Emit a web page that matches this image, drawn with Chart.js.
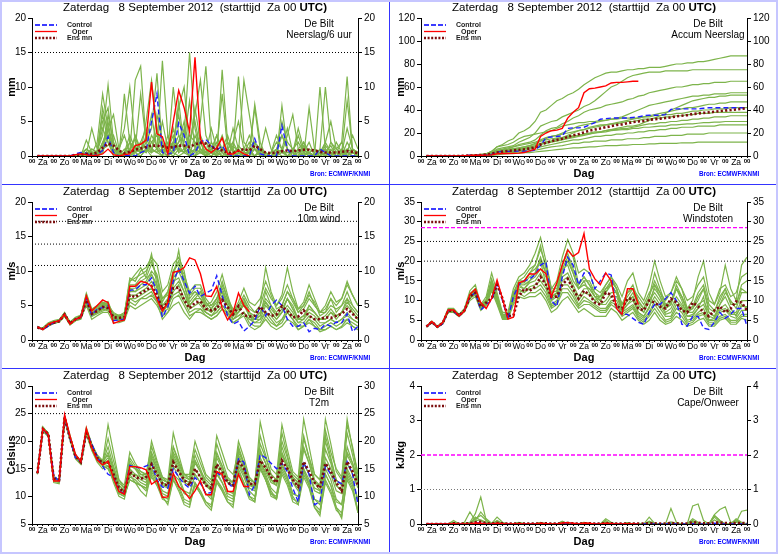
<!DOCTYPE html>
<html lang="nl">
<head>
<meta charset="UTF-8">
<title>ECMWF pluim De Bilt - 8 September 2012</title>
<script src="https://cdn.jsdelivr.net/npm/chart.js"></script>
<style>
    body { margin: 0; background: #fff; }
    #wrap { position: relative; width: 778px; height: 554px; overflow: hidden; background: #fff; }
    #wrap canvas { position: absolute; }
    .sep { position: absolute; background: #3434ff; }
    .frame { position: absolute; left: 0; top: 0; width: 778px; height: 554px; box-sizing: border-box; border: 2px solid #c6c6ff; }
</style>
</head>
<body>
<div id="wrap">
    <canvas id="pNeerslag" width="389" height="184" style="left:0;top:0"></canvas>
    <canvas id="pAccum" width="389" height="184" style="left:389px;top:0"></canvas>
    <canvas id="pWind" width="389" height="184" style="left:0;top:184px"></canvas>
    <canvas id="pGust" width="389" height="184" style="left:389px;top:184px"></canvas>
    <canvas id="pTemp" width="389" height="184" style="left:0;top:368px"></canvas>
    <canvas id="pCape" width="389" height="184" style="left:389px;top:368px"></canvas>
    <div class="sep" style="left:389px;top:0;width:1px;height:554px"></div>
    <div class="sep" style="left:0;top:184px;width:778px;height:1px"></div>
    <div class="sep" style="left:0;top:368px;width:778px;height:1px"></div>
    <div class="frame"></div>
</div>
<script>
const STEP = 0.25; // 6 uur in dagen, eerste waarde op +6h
const dayNames = ['Za', 'Zo', 'Ma', 'Di', 'Wo', 'Do', 'Vr', 'Za', 'Zo', 'Ma', 'Di', 'Wo', 'Do', 'Vr', 'Za'];

// Neerslag per 6 uur (mm)
const precipCtrl = [0,0,0, 0,0,0,0, 0.3,0.5,0.4,0, 0.2,0.8,2.8,0.5, 0,0,0.1,0, 0.5,0.8,5,9, 0.5,0.3,0.5,4.8, 3,0,0.5,2, 2.4,1.5,0.8,1.5, 0.3,0,0,0, 0,2.5,0.3,0.1, 0,0,4.4,1, 0,0,0,0, 0,1,0.5,0, 0,0,0,0, 0];
const precipOper = [0,0,0, 0,0,0,0, 0.2,0.3,0.2,0, 0.1,0.3,1,0.2, 0,0.2,0.3,1.5, 1.7,2.3,10.7,3.2, 2.8,0.3,5,9.5, 7,3.5,14.3,2.5, 1,0.5,1.2,2.6, 0.3,0.3,0.8,0.3, 0];
const precipMean = [0,0,0, 0,0,0,0, 0.1,0.2,0.3,0.3, 0.5,1.2,1.8,1.5, 0.8,0.4,0.6,0.9, 1.1,1.3,1.5,1.5, 1.4,1.2,1.3,1.5, 1.5,1.3,1.7,1.9, 1.8,1.3,1.1,0.8, 0.5,0.4,0.8,1.0, 0.8,1.5,1.0,0.5, 0.4,0.5,0.7,0.8, 0.7,0.8,0.9,0.9, 0.8,0.6,0.5,0.5, 0.5,0.6,0.7,0.6, 0.4];
const precipEns = [
    [0,0,0, 0,0,0,0, 0,0.4,1,0.3, 0.8,3,10.3,2, 0.3,0,1,2.5, 1,0.5,3,1.5, 0.5,0,1,2, 3,15,4,0.5, 0,1,2,1, 0.5,0,0.3,1, 3,1,0,0, 0.5,2,1,0, 0,0.5,1,0.3, 0,0,1.5,0.5, 0,0.3,1,0.5, 0],
    [0,0,0, 0,0,0,0, 0,0,2.3,0.5, 0,1,4,6, 1,3,0.5,11, 13,2,0.5,1, 13.8,3,0.5,2, 5,1,0.5,3, 1,0.5,3,1, 0,2,5,1, 0.5,7.5,2,0, 0.5,3,1,0, 1,2,0.5,0, 0,0.5,0,2, 1,0.5,0,1, 0.3],
    [0,0,0, 0,0,0,0, 0,0,0.3,4, 1,6,2,0.5, 0,9,2,1, 0.5,5,11,4, 1,0.5,10,3, 2,8,1,5, 13,2,0.5,1, 3,0.5,11.5,2, 1,0,0.5,4, 1,0,7.3,1, 0.5,0,2,0.5, 0,1,10,2, 0.5,0,0.5,3, 1],
    [0,0,0, 0,0,0,0, 0,0,0.5,0.3, 2,9,4,1, 0,0.5,3,1, 9,2,6,1, 0,3,1,8, 1,2,6,11, 3,1,0,12.5, 2,1,0,0.5, 2,1,0.5,0, 0,1,0.5,3, 6,1,0,0.5, 1,0,2,5, 1,2,0,0.5, 0],
    [0,0,0, 0,0,0,0, 0,0,0,1, 0.5,7,3,1, 0.5,0,2,1, 0.5,2,4,12, 1,0.5,2,7, 10,1,0,1, 0.5,4,1,9, 1,0,0.5,11, 6,1,0,0.5, 0,0.5,5,2, 1,0.5,0,7, 1,0.5,0,0, 0.5,2,11.5,0.5, 0.5],
    [0,0,0, 0,0,0,0, 0,0,0.3,1, 0.5,5,7,1, 0,1,0.5,3, 1,0.5,2,3, 1,0.5,0,1, 0.5,3,2,1, 0.5,0,1,3, 0.5,4,1,0, 0.5,2,1,0, 0,1,3,1, 0.5,4,1,0, 0,0.5,1,0, 2,0.5,8,1, 0.5],
    [0,0,0, 0,0,0,0, 0,0,0,0.5, 0,2,4,0.5, 1,4,10,2, 0.5,1,0.5,6, 2,0.5,4,0.5, 1,0.5,0,2, 0.5,1,0.5,0, 1,2,0.5,0, 0.5,1,0,0, 0.5,1,0.5,0, 0,1,0.5,2, 0,10,1,0, 0.5,0,0.5,0, 0],
    [0,0,0, 0,0,0,0, 0,0,0.5,0, 0,1,1.5,3, 0.5,0,0,1, 2,1,1,0.5, 1,0,0.5,1.5, 0.5,0,3,1, 0,0.5,0,0.5, 0,0.5,1,0, 0,2,0,0, 0.5,0,1,0, 0,1,0,0.5, 0,1,0,0.5, 0,1,0.5,0, 0],
    [0,0,0, 0,0,0,0, 0,0.2,0.5,0, 0.5,4,2,0, 0,0.5,2,0.5, 0,1,0.5,4, 0.5,1,2,0.5, 4,0.5,1,0.5, 2,0.5,1,0, 0,1.5,0.5,0, 1,0,0.5,0, 0,0,1,4, 0.5,0,0,1, 0.5,0,0,1, 0,0,2,0.5, 0],
    [0,0,0, 0,0,0,0, 0,0,0,0.3, 0.5,1.5,5,0.5, 0,0,0.5,0.5, 1,2.5,1,0.5, 5,1,0.5,0, 0.5,1,7,2, 0,0,0.5,1, 2,0.5,0,0, 0.5,0,1,0.5, 0,0.5,0,0, 0.5,0,1.5,0.5, 0,0,0.5,1.5, 0,0.5,0,1, 0.5],
    [0,0,0, 0,0,0,0, 0,0.3,0.2,0, 0.3,2,3,0.5, 0,0.3,1,0, 0.5,3,2,1, 0.5,1,3,1, 0.5,2,5,1, 0,0.5,0,1, 0.5,0,0,0, 0,1,0.5,0, 0,0.5,3,1, 0,1,2,0.5, 0,0,0.5,0, 0,0,1,0.5, 0],
    [0,0,0, 0,0,0,0, 0,0,1,0.5, 0,0.5,3,1, 0.5,0,0,0.5, 2,4,1,0.5, 0,2,1,3, 1,0,1,0.5, 0.5,1,3,0.5, 0,0,1.5,0.5, 0,0,1,0, 0,0,0.5,0.5, 0.5,3,0.5,0, 0,0.5,2,0.5, 0,0.5,4,1, 0],
    [0,0,0, 0,0,0,0, 0,0,0,0, 0,0.5,6,2, 0,0,0,0, 0,1,0,0, 0,0,2,6, 1,0,0,0.5, 0,2,0.5,0, 0,0,0,0.5, 0.5,7,1,0, 0,0,1,0, 0,0,0.5,0, 0,0,1,0, 0,0,0,0, 0]
];
const precipLines = [15];

// Geaccumuleerde neerslag (mm)
const accumCtrl = [0,0,0, 0,0,0,0, 0.3,0.6,0.8,0.8, 1,1.3,3.5,4, 4,4,4.2,4.2, 4.5,5,9,16, 16.5,17,17.5,24, 24.5,24.5,25,27, 29,32,32.5,33, 33,33,33,33.5, 34,35,35.5,35.5, 35.5,36,40.5,41, 41,41,41,41, 41.5,42,42,42, 42,42,42,42, 42];
const accumOper = [0,0,0, 0,0,0,0, 0.2,0.5,0.7,0.7, 0.8,1,2,2.2, 2.2,2.3,2.5,3, 4.5,6,17,20, 22,22.5,24,33, 38,42,55,58.5, 59,60,61,63.5, 64,64,64.5,65, 65];
const accumMean = [0,0,0, 0,0,0,0, 0.2,0.4,0.6,0.8, 1.2,2,3,3.8, 4.4,5,5.3,5.8, 6.5,7.5,10,11.5, 13,14,15,16.5, 18,19,20.5,22, 23,24,25,26, 27,27.5,28.5,29.5, 30,30.5,31.5,32, 32.5,33,33.5,34.5, 35,35.5,36.5,37, 37.5,38,38.5,39, 39.5,40,40.5,41, 41.5];
const accumEns = [
    [0,0,0, 0,0,0,0, 0,0.5,1,1.5, 2,4,8,10, 13,15,20,22, 25,30,38,40, 44,48,50,53, 55,58,62,65, 68,70,72,73, 73,74,75,75, 76,76,77,77, 77,78,79,80, 80,81,81,82, 82,83,84,85, 86,87,87,87, 87],
    [0,0,0, 0,0,0,0, 0,0.3,0.5,1, 1.5,3,6,7, 8,9,12,14, 16,20,26,28, 30,31,34,36, 38,40,43,45, 48,52,56,60, 62,65,68,70, 71,72,73,73, 73,74,74,74, 74,74,75,75, 75,75,75,75, 75,75,75,75, 75],
    [0,0,0, 0,0,0,0, 0,0,0.3,0.5, 1,2,4,5, 6,8,10,11, 12,14,18,22, 24,25,28,30, 33,35,38,40, 41,42,44,45, 46,47,49,50, 52,53,55,56, 57,58,59,60, 60,61,62,62, 63,63,64,64, 64,65,65,65, 65],
    [0,0,0, 0,0,0,0, 0,0,0.5,1, 1.5,3,5,5.5, 6,6.5,7,8, 9,10,13,15, 17,18,20,22, 24,26,27,28, 29,30,31,32, 33,34,36,38, 40,42,44,45, 46,47,48,49, 50,51,52,52, 53,53,54,54, 54,55,55,55, 55],
    [0,0,0, 0,0,0,0, 0,0,0,0.5, 1,2,3,3.5, 4,5,6,7, 8,9,11,12, 13,15,16,18, 20,22,23,25, 26,27,27,28, 29,30,31,32, 33,34,35,36, 37,38,39,40, 41,42,42,43, 44,45,45,46, 46,47,47,47, 47],
    [0,0,0, 0,0,0,0, 0,0.2,0.4,0.6, 1,2,4,4.5, 5,5.5,6,6.5, 7,8,10,12, 13,14,15,16, 17,18,19,20, 21,21,22,23, 23,24,24,25, 26,27,28,28, 29,29,30,30, 31,31,32,32, 33,33,34,34, 34,35,35,35, 35],
    [0,0,0, 0,0,0,0, 0,0,0.3,0.5, 0.8,1.5,2.5,3, 3.5,4,4.5,5, 6,7,8,9, 10,11,12,13, 14,14,15,16, 17,17,18,18, 19,19,20,20, 21,21,22,22, 23,23,24,24, 25,25,25,26, 26,26,26,27, 27,27,27,27, 27],
    [0,0,0, 0,0,0,0, 0,0,0,0.3, 0.5,1,2,2.5, 3,3,3.5,4, 4.5,5,6,7, 8,8.5,9,10, 11,11,12,12, 13,13,13,14, 14,14,15,15, 15,16,16,17, 17,17,18,18, 18,19,19,19, 19,20,20,20, 20,20,20,20, 20],
    [0,0,0, 0,0,0,0, 0,0,0,0, 0.3,0.5,1,1.5, 2,2,2.5,3, 3,3.5,4,4.5, 5,5.5,6,6.5, 7,7,7.5,8, 8,8.5,9,9, 9,9.5,9.5,10, 10,10,10.5,10.5, 11,11,11,11, 11.5,11.5,11.5,12, 12,12,12,12, 12,12,12,12, 12],
    [0,0,0, 0,0,0,0, 0,0,0.5,1, 2,4,8,9, 10,12,15,17, 18,19,20,21, 22,24,26,27, 28,29,29,30, 30,31,31,32, 32,33,33,33, 33,34,34,35, 35,36,36,37, 37,38,39,39, 40,40,41,41, 41,42,42,42, 42],
    [0,0,0, 0,0,0,0, 0,0,0.3,0.8, 1.5,3,5,6, 7,8,9,10, 11,12,14,16, 17,18,19,20, 21,22,23,24, 25,26,27,28, 28,29,30,30, 31,32,32,33, 33,34,34,35, 35,36,36,37, 37,37,38,38, 38,38,38,38, 38],
    [0,0,0, 0,0,0,0, 0,0,0,0.3, 0.8,2,3.5,4, 5,6,7,8, 9,11,13,14, 15,15.5,16,17, 17.5,18,19,19.5, 20,20.5,21,22, 22.5,23,23,24, 24,25,25,25.5, 26,26,27,27, 27.5,28,28,28.5, 29,29,29.5,29.5, 30,30,30,30, 30],
    [0,0,0, 0,0,0,0, 0,0,0,0.5, 1,2,3,3.5, 4,4.5,5,6, 7,8,10,11, 12,13,14,15, 16,17,18,19, 20,21,22,23, 24,25,26,26, 27,29,31,33, 35,37,40,42, 44,46,48,49, 50,51,51,52, 52,53,53,53, 53]
];

// 10m wind (m/s)
const windCtrl = [1.9,1.5,2,2.5, 2.8,3.7,2.4,3, 3.3,6,3.6,4.5, 4.7,5,2.8,2.9, 3,7.2,7.3,8, 8,9,7,3.3, 4.8,8.5,10.3,8.5, 6.8,7.8,6.3,6.8, 7.2,9.3,6.5,3.5, 2.3,2.7,1.3,2, 2.8,4.9,3.5,5, 5.8,5,3,2, 2,2.5,1.2,1.7, 1.5,2.3,2,2.6, 2.5,3.8,1.2,2];
const windOper = [1.9,1.5,2.3,2.6, 2.8,3.7,2.3,3, 3.3,6.4,4.2,5, 5.8,5.4,2.4,2.7, 2.9,7.8,7.8,8.5, 8.3,7.8,5.9,4.2, 5.4,9.8,10,10.5, 11.9,11.6,9.6,6.4, 6.3,7.8,4.6,2.9, 4,6.8,5,4.1];
const windMean = [1.8,1.6,2.2,2.5, 2.7,3.7,2.4,3, 3.3,5.8,3.8,4.2, 4.8,4.6,3.3,3.2, 3.3,6.5,6.2,6.8, 7.2,7.8,6.5,4.5, 5.5,7.5,7.6,5.8, 4.6,5.4,5.6,4.5, 4.3,4.5,5.8,4.8, 3.7,4.9,3.6,3.4, 3.5,4.8,4,3.5, 3.7,4.9,4.2,3.3, 3.4,4.3,3.5,3, 3,3.3,3.2,3.5, 3.8,4.5,3.8,3];
const windEns = [
    [1.8,1.6,2.4,2.6,2.9,4,2.5,3.2,3.5,6.5, 4,4.5,5,5.2,3,3,3.5,8,8,9, 9.5,12.5,8,4,6,9,13,8,5,6, 7,5,4,5,8,6,4,5,6,4, 3,3,5,4,3,4,6,5,3,3, 5,4,3,3,4,3,4,5,4,3],
    [2,1.5,2,2.4,2.6,3.5,2.2,2.8,3,5.5, 3.5,4,4.5,4.2,3.5,3.5,3,6,5.5,6, 6.5,7,5.5,4,5,7,8,6,5,6, 5,4,3.5,4,5,4,3,3.5,4,3, 3,4,5.5,4,3,4,5,4,2.5,3, 4,3.5,2.5,2.5,3,2.5,3,4,3,2.5],
    [1.7,1.8,2.5,2.8,3,3.8,2.6,3.3,3.6,6.8, 4.5,5,5.5,5,4,3.5,4,7.5,7,8, 8.5,10,9,6,7,10,11,9.5,7,8, 8,6,5,6,7,5,3.5,4,5.5,3.5, 2.5,2.5,4,3,2,3,4,3,2,2, 3,2.5,1.5,2,2.5,2,2.5,3,2.5,2],
    [1.9,1.5,2.1,2.5,2.7,3.6,2.3,3,3.2,5, 3,3.5,4,4,2.5,2.5,2.8,5,4.5,5, 5.5,6,5,3.5,4,5,5.5,4,3,4, 4,3.5,3,3.5,4.5,3.5,2.5,3,4,2.5, 2,2,3.5,2.5,2,2.5,4,3,1.5,2, 3,2,1.5,1.5,2,1.5,2,3,2,1.5],
    [1.8,1.7,2.3,2.6,2.8,3.8,2.5,3.1,3.4,6, 4,4.5,5.2,5,3.8,3.6,3.8,9,8.5,10, 10.5,12,11,7,8,11,12,10,6,7, 6.5,5,5,6,7.5,5.5,4,5,6.5,5, 4,5,10.5,7,5,6,8,6,4,5, 7,5,4,4.5,6,4,5,7,5,4],
    [1.8,1.6,2.2,2.5,2.8,3.7,2.4,3,3.3,5.8, 3.7,4.2,4.6,4.8,3.2,3.2,3.2,6.5,6.5,7, 7.5,8.5,7,5,6,8.5,9,7,5,6, 6,4.5,4,5,6.5,5,3.5,4.5,5,4, 3.5,4,6,5,4,5,7,5.5,4,4.5, 6,5,4,4,5,4.5,5,6,5,4],
    [2,1.6,2.2,2.4,2.6,3.4,2.2,2.8,3.1,5.2, 3.4,3.8,4.2,4.5,3,2.8,2.9,5.5,5,6, 6,6.5,5.5,3,4,6,6.5,5,3.5,4, 4.5,3.5,3,3.5,4.5,4,2.5,3,3.5,2, 1.5,2,3,2,1.5,2,3,2.5,1.5,2, 2.5,2,1.2,1.5,2,1.5,1.8,2.5,2,1.5],
    [1.8,1.6,2.3,2.6,2.8,3.8,2.5,3.1,3.4,6.2, 4.2,4.6,5,5,3.5,3.4,3.6,7.5,7.5,8.5, 9,11,9.5,6,6.5,9,10,8,5.5,6.5, 7,5.5,4.5,5.5,7,5.5,4,4,5,3.5, 3,3.5,7,5,3.5,4.5,6,4.5,3,3.5, 5,4,3,3.5,4.5,3.5,4,6,4,3],
    [1.9,1.6,2.3,2.5,2.8,3.9,2.4,3.1,3.4,6.4, 4.4,4.8,5.4,5.6,3.4,3.3,3.4,8.5,9,9.5, 10,11.5,9,5,5.5,8,10.5,9,6.5,7.5, 7.5,5.5,4.5,6,8.5,6,4.5,4.5,6,4.5, 4,5,7.5,6,5,6.5,10.5,7,4.5,5, 6.5,5.5,3.5,4,6,5,6,8,6.5,5],
    [1.8,1.5,2.1,2.4,2.7,3.6,2.3,2.9,3.2,5.6, 3.6,4,4.4,4.6,3.1,3,3,6,6,6.5, 7,7.5,6,4.5,5,6.5,7,5.5,4,4.5, 4.5,4,3.5,4,5,4.5,3,3.5,4,3, 2.5,3,4,3.5,2.5,3,4.5,3.5,2.5,2.5, 3.5,3,2,2.5,3,2.5,3,3.5,3,2.5],
    [1.8,1.7,2.4,2.7,2.9,3.9,2.6,3.2,3.5,6.6, 4.3,4.8,5.3,5.3,3.7,3.5,3.7,8.5,9.5,10.5, 9,9.5,8,5.5,7,10,11.5,8.5,6.5,7, 6,5,5.5,7,9.5,6.5,4,5.5,7.5,5.5, 5,6,8.5,6.5,4.5,5,7,6,4.5,5.5, 8,6,4,5,7,5.5,6,8.5,6.5,5],
    [1.9,1.6,2.2,2.5,2.7,3.7,2.4,3,3.3,5.9, 3.8,4.3,4.7,4.9,3.3,3.1,3.3,7,7,7.5, 8,9.5,7.5,4,4.5,7.5,8.5,7,4.5,5, 5.5,4,3.5,4.5,6,5,3,4,5.5,3.5, 3,3.5,5.5,4.5,3.5,4,6,4.5,3,3.5, 4.5,4,3,3,4,3.5,4,5.5,4.5,3.5]
];
const windLines = [10.8, 13.9, 17.2];

// Windstoten (m/s)
const gustCtrl = [3.4,4.5,3.3,4.1, 7.5,7.3,6,7.5, 11,12,7.6,9, 10,14.5,10,5.3, 11,14,15,15.5, 16.5,19,19.8,10, 8.5,16,21,19, 14,17,17,13, 15,17,16.5,8, 6.5,6.5,5.5,4.5, 4,7,9,9, 10.5,12,10,4, 3.5,6,6,3, 2.7,4.5,7,5.5, 6.5,8,8,3.5];
const gustOper = [3.4,4.7,3.3,4.4, 7.6,7.6,6.1,7.4, 11.6,12.9,9.5,8, 10.5,15.2,10.5,5.3, 5.8,14.5,15,16.8, 16.7,18,16.8,11, 14.5,19,22.8,21.2, 22.2,27,18,15.5, 14,17,15,8, 6.5,13,13,9];
const gustMean = [3.4,4.6,3.4,4.3, 7.4,7.4,6.2,7.5, 11,12,8.4,9.5, 10.5,14,10.5,6, 6.2,11,13,12.5, 13.5,16,14,11, 11,14,15.5,13, 10.5,12.5,11.5,9.5, 9,12,11.5,8.5, 8,10.5,10.5,8, 7.5,10,9.5,8.5, 8,10.5,9.5,7.5, 7,9.5,8.5,7, 6,7.5,8.5,7, 8,9.8,9.5,7.5];
const gustEns = [
    [3.5,4.8,3.5,4.6,8,8,6.5,8,12.5,14, 9,11,17,12,7,7,13,16,17,19, 22,26,20,13,15,21,25.5,22,17,18, 17,13,12,14,16,14,11,15,17,12, 10,14,20,15,11,12,15,13,10,11, 14,16,10,9,13,14,11,12,16,17],
    [3.4,4.7,3.3,4.4,7.6,7.6,6.3,7.7,11.5,13, 8.5,10,15,11,6.5,6.5,12,14,15,17, 18,20,17,12,14,19,23,21,14,16, 14,12,10,13,14,12,9,12,13,11, 9,12,14,12,10,12,16,13,8,10, 16,20,12,9,12,19,13,10,19,21],
    [3.4,4.6,3.4,4.3,7.4,7.4,6.2,7.5,11,12.5, 8,9.5,14,10,6,6.5,11,14,13,15, 16,18,16,11,12,16,17,14,11,13, 13,11,9,10,12,12,8,10,11,8, 7,10,12,10,7,8,11,9,7,7, 9,10,7,6,8,9,7,7,10,10],
    [3.3,4.4,3.2,4.1,7.2,7,6,7.3,10.5,11.5, 7.8,9,13,9.5,5.5,5.5,9.5,12,11,12, 12,13,11,8,9,12,12,10,8,9, 9,8,7,7,9,8,6,7,8,5.5, 4.5,6,8,6,4.5,5,7,6,4,4.5, 6,6.5,4,4,5.5,6,4.5,4.5,6,6],
    [3.4,4.5,3.4,4.3,7.5,7.5,6.1,7.4,11.2,12.3, 8.5,9.8,14.5,10.5,6.2,6,11,14,14,15, 17,20,14,10,12,18,19,15,13,15, 12,10,11,13,15,13,7,9,11,7, 6,8,14,11,8,9,13,10,6,6, 8,11,5,5.5,9,11,8,6,9,8],
    [3.3,4.4,3.2,4.1,7,7,5.9,7.2,10,11, 7.5,8.8,12.5,9,5.2,5.2,9,11,10.5,11, 11,12,10,7,8,10,11,9,7,8, 7,6,6,6,8,7,5,6,7,5, 4,5,7,5,4,4.5,6,5,3.5,4, 5,5.5,3.5,3.5,5,5.5,4,4,5.5,5],
    [3.5,4.7,3.4,4.4,7.7,7.7,6.3,7.7,11.8,13, 8.8,10.3,15.5,11.2,6.5,6.5,12,15,15,17, 19,23,19,13,13,19,22,18,14,16, 14,11,10,12,14,12,8,10,12,9, 7,10,13,11,8,9,14,11,7,8, 10,13,7,6,9,12,10,8,12,12],
    [3.4,4.5,3.3,4.2,7.3,7.2,6.1,7.4,10.8,12, 8.2,9.2,13.5,10,5.8,6,10.5,13,12,13.5, 14,15,13,9,10,14,14,12,9,11, 10,9,8,8,10,10,7,8,9,6.5, 5.5,7,10,8,6,6,9,8,5,5.5, 7,8,5,5,7,7.5,6,5.5,7.5,7.5],
    [3.4,4.6,3.3,4.3,7.5,7.4,6.2,7.6,11.3,12.6, 8.6,9.8,14.8,10.8,6.3,6.3,11.5,15,16,18, 19,24,18,11,12,17,20,17,13,14, 13,11,11,14,16,13,9,12,14,10, 8,11,17,13,9,10,13,11,7.5,8, 11,13,8,7,11,13,9,9,14,15],
    [3.3,4.5,3.3,4.2,7.3,7.3,6,7.3,10.7,11.8, 8,9,13.5,9.8,5.6,5.8,10,12.5,12,13, 13,14,12,8.5,9.5,13,13,11,8.5,10, 9.5,8.5,7.5,7.5,9.5,9,6.5,7.5,8.5,6, 5,6.5,9,7,5,5.5,8,7,4.5,5, 6.5,7,4.5,4.5,6,6.5,5,5,6.5,6.5],
    [3.5,4.7,3.4,4.4,7.6,7.6,6.3,7.6,11.4,12.8, 8.6,10,15,11,6.4,6.4,11.8,14.5,14.5,16, 17,21,17,12,12.5,18,21,17,13,15, 15,12,11,12,15,13,9,11,13,9.5, 8,11,15,12,8.5,9.5,13,11,8,8.5, 12,14,9,7.5,10,13,9.5,9,13,12],
    [3.4,4.5,3.3,4.2,7.4,7.3,6.1,7.5,10.9,12.2, 8.3,9.5,14,10.2,5.9,6.1,10.8,13.5,13,14.5, 15,17,14,10,11,15,16,13,10,12, 11.5,10,9,9,11,11,7.5,9,10,7, 6,8.5,11,9,6.5,7,10,8.5,6,6.5, 8,9,6,5.5,7.5,8,6.5,6.5,8.5,8.5]
];
const gustLines = [20, 25];
const gustAlarm = [28.5];

// Temperatuur 2m (Celsius)
const tempCtrl = [14.2,22.3,21,14, 12.5,24.5,20.5,17, 16.3,21.8,19.5,17.2, 15.5,14,13.5,11, 10.5,15.6,15.3,15.2, 15.5,16,13,11.7, 11.5,15,13.5,12.3, 11.5,13.4,12.4,10.5, 10.7,14.4,13.5,12.5, 11.6,16.8,16.2,10.3, 12,17.6,17,16, 15,16,14.5,11.5, 9,16.2,14,8.5, 9,15.5,14,12.8, 12.3,16.3,14,8.5];
const tempOper = [14.2,22.3,21.2,12.8, 12.8,24.8,20.9,17.6, 16.3,22.3,18.8,16.6, 15.7,16.4,13.3,10.9, 10.4,15.4,15.4,15.2, 14.8,12.2,12.9,9.8, 9.9,14.2,11.8,10.9, 9.6,11,12.8,10.3, 10.3,14.5,14,10.9, 10.9,14,11.8,11.8];
const tempMean = [14.2,22.2,21.3,13.2, 13,24.3,20.5,17.3, 16.2,21.8,19,17, 16,16.2,14,11.5, 10.8,14.5,13.5,13.2, 13.5,15.8,14,12.3, 12,16.2,14.5,13, 12,15,13.5,12, 11.5,15.8,14.5,12.5, 12,16.5,15,12.3, 12.2,16.5,15.2,13.5, 12.5,16.5,15,13, 11.8,16.3,14.5,12.5, 11.5,16,14.5,12.5, 11,16.3,14.5,12];
const tempEns = [
    [14,22.5,21.5,13.5, 13,24.5,21,17.5, 16.5,22.5,19.5,17.5, 16.5,17.5,15,12, 11,16,15,14.5, 14,17.5,15,13, 12.5,18,16,14, 13,16.5,14.5,13, 12,17,15,13, 12.5,18.5,16,13, 12.5,19.5,17,14, 13,19,16,14, 13,21,17,14, 13,22,18,15, 13.5,23,19,14],
    [14.3,22,21,12.8, 12.5,24,20.5,17, 16,21.5,18.5,16.5, 15.5,15,13,10.5, 10,13.5,13,12, 11.5,14,12,9.5, 9,13,11.5,9, 8.5,12,10.5,9, 8,12.5,11,9, 8.5,14,12,9.5, 9,15,13,10.5, 9.5,14,12,9, 8.5,13.5,11.5,8, 7,12.5,10.5,7.5, 6.5,13,11,7],
    [14.2,22.3,21.2,13, 12.8,24.3,20.6,17.3, 16.2,21.8,19,17, 16,16.5,14.5,11.5, 10.8,15,14,13.5, 13.5,16.5,14.5,12.5, 12,16.5,14.5,12.5, 12,15,13.5,12, 11,16,14.5,12.5, 12,17,15,12, 11.5,17,15,13, 12,17.5,15,12.5, 11,16,14,11, 10.5,17,15,12, 11,17.5,15.5,12],
    [14.1,22.6,21.3,13.4, 12.9,24.6,20.8,17.6, 16.4,22.2,19.5,17.4, 16.2,23,18,13, 11.5,17,15.5,14, 13.5,20,16.5,13.5, 13,21.5,17.5,14, 14,20,17,14, 13,21,18,15, 14,18,16,12.5, 12,23.5,19,15, 14,23,18.5,14.5, 13.5,24,19,14, 13,24,19.5,14.5, 13,24,18.5,14],
    [14.3,21.8,20.8,12.5, 12.3,23.8,20.3,16.8, 15.8,21.3,18.3,16.2, 15,15.5,12.5,10, 9.5,14,12.5,11, 10,14.5,12.5,10, 8.5,13,11,8.5, 8,12.5,10.5,8.5, 7.5,13,11,9, 8,15,12.5,10, 9,16,13.5,11, 9.5,15,13,10, 8.5,15,12,8, 6.5,14,12,8, 6,14,12,7],
    [14.2,22.1,21.3,13.1, 12.9,24.4,20.4,17.1, 16.1,21.9,19.2,17.1, 16,17,14.5,11, 10.5,14,14,13, 12.5,16,14,12, 11.5,17,15,13, 12.5,16.5,14.5,12, 11,15.5,13.5,11, 10.5,16,14.5,12, 12,16,14.5,12.5, 12,18,15.5,13, 12,16,14,11.5, 11,16,14,11, 10.5,16,14,11.5],
    [14.2,22.4,21.4,13.3, 13.1,24.2,20.7,17.4, 16.3,22,19.3,17.2, 16.1,19,15.5,12.5, 11.5,15.5,15,14, 14,18,15.5,13, 12.5,19,16,13.5, 13,17.5,15,12.5, 11.5,18,15.5,12.5, 12,19,16,13, 12.5,18,16,13, 12.5,20,17,13.5, 12.5,19,16,12.5, 12,20,16.5,13, 12,19,16,13],
    [14.1,22,21,13, 12.7,24.1,20.5,17.2, 16.2,21.7,18.8,16.8, 15.8,16,14,11.3, 10.8,14.5,13.5,12.5, 12,15,13,10.5, 10,14,13,10.5, 10,14,12.5,10.5, 9.5,14.5,12.5,10, 9.5,15.5,13.5,11, 10,15,13,10, 9.5,16,13.5,10.5, 10,15,13,9.5, 8.5,15,13,9.5, 8.5,15,13,9],
    [14.2,22.2,21.2,13.2, 12.9,24.3,20.6,17.2, 16.2,21.9,19.1,17.1, 16,18,15,12, 11.2,16.5,15,13.5, 13,17,15,12.5, 11.5,17.5,15.5,13, 12.5,16,14.5,12, 11.5,17.5,15.5,13, 12.5,17.5,15.5,12.5, 11.5,18.5,16,13, 12,17.5,15.5,12.5, 11.5,18.5,16,12.5, 11,18.5,16,12, 11,18,16,12.5],
    [14.1,22.2,21.1,13.1, 12.8,24.2,20.4,17.1, 16.1,21.6,18.9,16.9, 15.9,15.5,13.5,10.8, 10.3,13,12.5,12, 11.5,15,13,11, 10.5,15.5,13.5,11, 10.5,14,12.5,10.5, 10,14,12.5,10.5, 10,16,14,11.5, 11,16.5,14,11.5, 10.5,15.5,13.5,10.5, 10,14.5,12.5,9.5, 9,14,12,9, 8.5,14.5,12.5,9.5],
    [14.3,22.5,21.5,13.5, 13,24.6,20.9,17.5, 16.3,22.1,19.4,17.3, 16.2,20.5,16.5,13, 12,18,16,14.5, 14,19,16,13.5, 12.5,19,16.5,14, 13.5,18.5,16,13.5, 12.5,19.5,16.5,13.5, 12.5,20,17,13.5, 12.5,21,17.5,14, 13,21.5,17.5,13.5, 12.5,20.5,17,13, 12,21,17,13, 12,21.5,17.5,13],
    [14.2,22,21,13, 12.7,24,20.4,17, 16,21.6,18.7,16.7, 15.7,15,13,10.5, 10,13,12.5,12, 11,13.5,12,10, 9.5,13.5,12,9.5, 9,12.5,11,9, 8.5,13,11.5,9.5, 9,14.5,12.5,10, 9.5,15.5,13,10.5, 10,14.5,12.5,9.5, 9,14,12,8.5, 7.5,13,11,8, 7,13.5,11.5,7.5]
];
const tempLines = [25];

// CAPE (kJ/kg)
const capeCtrl = [0,0,0,0, 0,0.01,0,0, 0,0.02,0.03,0, 0,0.02,0,0, 0,0.01,0,0, 0,0.01,0,0, 0,0.02,0.03,0, 0,0.01,0,0, 0,0.01,0,0, 0,0,0,0, 0,0.01,0,0, 0,0.02,0,0, 0,0.01,0,0, 0,0.02,0.01,0, 0,0.01,0,0];
const capeOper = [0,0,0,0, 0,0.01,0,0, 0,0.03,0.02,0, 0,0.02,0.01,0, 0,0.01,0,0, 0,0.02,0.01,0, 0,0.03,0.04,0.02, 0,0.03,0.02,0, 0,0.02,0.01,0, 0,0.01,0,0];
const capeMean = [0,0,0,0, 0,0.02,0.01,0.01, 0.02,0.05,0.06,0.02, 0.01,0.03,0.02,0.01, 0.01,0.02,0.01,0.01, 0.01,0.02,0.02,0.01, 0.01,0.02,0.03,0.02, 0.01,0.02,0.02,0.01, 0.01,0.02,0.02,0.01, 0.01,0.01,0.01,0.01, 0.01,0.02,0.02,0.01, 0.01,0.03,0.02,0.01, 0.02,0.05,0.04,0.02, 0.02,0.04,0.04,0.03, 0.02,0.03,0.03,0.02];
const capeEns = [
    [0,0,0,0, 0,0.05,0,0.02, 0.05,0.3,0.78,0.1, 0,0.05,0,0, 0,0,0.02,0, 0,0.02,0,0, 0,0.02,0,0, 0,0.05,0,0, 0,0.02,0,0, 0,0.02,0,0, 0,0.05,0,0, 0,0.02,0,0, 0,0.05,0,0, 0,0.25,0.1,0, 0,0.05,0,0],
    [0,0,0,0, 0,0.1,0,0.05, 0.35,0.1,0.35,0.15, 0.02,0.2,0.05,0, 0,0.03,0,0, 0,0.05,0,0, 0,0.03,0.05,0, 0,0.03,0,0, 0,0.15,0.05,0, 0,0.02,0,0, 0,0.2,0.02,0, 0,0.45,0.05,0, 0,0.52,0.58,0.1, 0,0.27,0.42,0.5, 0.05,0.05,0.37,0.4],
    [0,0,0,0, 0,0.05,0,0, 0.02,0.15,0.25,0.1, 0,0.08,0,0, 0,0.05,0,0, 0,0.03,0,0, 0,0.08,0,0, 0,0.02,0,0, 0,0.1,0,0, 0,0.03,0,0, 0,0.05,0,0, 0,0.05,0,0.02, 0,0.15,0.05,0, 0,0.25,0.1,0, 0,0.15,0.05,0],
    [0,0,0,0, 0,0.02,0,0, 0,0.1,0.12,0.05, 0,0.02,0,0, 0,0.02,0,0, 0,0.02,0,0, 0,0.05,0,0, 0,0.05,0,0, 0,0.05,0,0, 0,0.01,0,0, 0,0.03,0,0, 0,0.02,0,0, 0,0.1,0,0, 0,0.2,0.05,0, 0,0.1,0,0],
    [0,0,0,0, 0,0.03,0.01,0, 0.01,0.2,0.1,0.02, 0,0.1,0.02,0, 0,0.04,0.01,0, 0,0.04,0.01,0, 0,0.06,0.02,0, 0,0.04,0.01,0, 0,0.06,0.02,0, 0,0.04,0,0, 0,0.08,0.02,0, 0,0.06,0.01,0, 0,0.08,0.03,0, 0,0.12,0.03,0, 0,0.12,0.02,0]
];
const capeLines = [1];
const capeAlarm = [2];

const GREEN = '#7db44b';
const FONT = "'Liberation Sans', Arial, Helvetica, sans-serif";

function pts(vals) {
    return vals.map((v, i) => ({ x: (i + 1) * STEP, y: v }));
}

function hline(v) {
    return [{ x: 0, y: v }, { x: dayNames.length, y: v }];
}

// titels, legenda en teksten rond elke grafiek
const decor = {
    id: 'decor',
    beforeDraw(chart) {
        const c = chart.ctx;
        c.save();
        c.fillStyle = '#fff';
        c.fillRect(0, 0, chart.width, chart.height);
        c.restore();
    },
    afterDraw(chart, args, o) {
        const c = chart.ctx;
        c.save();
        c.fillStyle = '#000';
        c.textBaseline = 'middle';

        // kop
        const t1 = 'Zaterdag   8 September 2012  (starttijd  Za 00 ';
        const t2 = 'UTC)';
        c.font = '11.5px ' + FONT;
        const w1 = c.measureText(t1).width;
        c.font = 'bold 11.5px ' + FONT;
        const w2 = c.measureText(t2).width;
        const x = 195 - (w1 + w2) / 2;
        c.font = '11.5px ' + FONT;
        c.textAlign = 'left';
        c.fillText(t1, x, 8);
        c.font = 'bold 11.5px ' + FONT;
        c.fillText(t2, x + w1, 8);

        // legenda
        c.lineCap = 'butt';
        c.strokeStyle = '#3c3cff';
        c.lineWidth = 2;
        c.setLineDash([5, 2]);
        c.beginPath(); c.moveTo(35, 25); c.lineTo(57, 25); c.stroke();
        c.strokeStyle = '#ff0000';
        c.lineWidth = 1.3;
        c.setLineDash([]);
        c.beginPath(); c.moveTo(35, 31.5); c.lineTo(57, 31.5); c.stroke();
        c.strokeStyle = '#7b0d0d';
        c.lineWidth = 2.4;
        c.setLineDash([2, 1.6]);
        c.beginPath(); c.moveTo(35, 38); c.lineTo(57, 38); c.stroke();
        c.setLineDash([]);
        c.font = 'bold 7px ' + FONT;
        c.fillStyle = '#222';
        c.fillText('Control', 67, 25);
        c.fillText('Oper', 72, 32);
        c.fillText('Ens mn', 67, 38.5);

        // locatie en grootheid
        c.fillStyle = '#000';
        c.textAlign = 'center';
        c.font = '10px ' + FONT;
        c.fillText('De Bilt', 319, 24);
        c.fillText(o.label, 319, 35);

        // astitels
        c.font = 'bold 11px ' + FONT;
        c.fillText('Dag', 195, 174);
        c.save();
        c.translate(12, 87);
        c.rotate(-Math.PI / 2);
        c.fillText(o.unit, 0, 0);
        c.restore();

        c.textAlign = 'left';
        c.fillStyle = '#0000ff';
        c.font = 'bold 6.3px ' + FONT;
        c.fillText('Bron: ECMWF/KNMI', 310, 174.5);
        c.restore();
    }
};

function axisY(pos, min, max, step, width) {
    return {
        position: pos, min: min, max: max,
        afterFit: s => { s.width = width; },
        ticks: { stepSize: step, padding: 2, color: '#000', font: { family: FONT, size: 10 } },
        grid: { drawOnChartArea: false, tickLength: 4, color: '#000' },
        border: { color: '#000', width: 1 }
    };
}

function makeChart(id, cfg) {
    const ds = [];
    cfg.ens.forEach(m => ds.push({ data: pts(m), borderColor: GREEN, borderWidth: 1.2, order: 6 }));
    (cfg.lines || []).forEach(v => ds.push({ data: hline(v), borderColor: cfg.lineColor || '#000', borderWidth: 1, borderDash: [1, 2], order: 5 }));
    (cfg.alarm || []).forEach(v => ds.push({ data: hline(v), borderColor: '#ff00ff', borderWidth: 1.3, borderDash: [4, 2], order: 5 }));
    ds.push({ data: pts(cfg.mean), borderColor: '#7b0d0d', borderWidth: 2.6, borderDash: [2.2, 2.2], order: 2 });
    ds.push({ data: pts(cfg.ctrl), borderColor: '#1e1eff', borderWidth: 1.4, borderDash: [5, 3], order: 3 });
    ds.push({ data: pts(cfg.oper), borderColor: '#ff0000', borderWidth: 1.4, order: 1 });

    new Chart(document.getElementById(id), {
        type: 'line',
        data: { datasets: ds },
        options: {
            responsive: false,
            animation: false,
            events: [],
            devicePixelRatio: 1,
            layout: { padding: { top: 18, left: 0, right: 0, bottom: 0 } },
            elements: { point: { radius: 0 }, line: { tension: 0, fill: false } },
            plugins: {
                legend: { display: false },
                tooltip: { enabled: false },
                decor: { label: cfg.label, unit: cfg.unit }
            },
            scales: {
                x: {
                    type: 'linear', min: 0, max: dayNames.length,
                    afterFit: s => { s.height = 28; },
                    ticks: {
                        stepSize: STEP, autoSkip: false, maxRotation: 0, minRotation: 0, padding: 0,
                        color: '#000',
                        font: ctx => (ctx.tick && Number.isInteger(ctx.tick.value))
                            ? { family: FONT, size: 6, weight: 'bold' }
                            : { family: FONT, size: 8.5 },
                        callback: v => {
                            if (Number.isInteger(v)) return '00';
                            if (v % 1 === 0.5) return dayNames[Math.floor(v)];
                            return '';
                        }
                    },
                    grid: { drawOnChartArea: false, tickLength: 2, color: '#000' },
                    border: { color: '#000', width: 1 }
                },
                y: axisY('left', cfg.min, cfg.max, cfg.step, 32),
                y2: axisY('right', cfg.min, cfg.max, cfg.step, 31)
            }
        },
        plugins: [decor]
    });
}

makeChart('pNeerslag', { label: 'Neerslag/6 uur', unit: 'mm', min: 0, max: 20, step: 5,
    ens: precipEns, ctrl: precipCtrl, oper: precipOper, mean: precipMean, lines: precipLines });
makeChart('pAccum', { label: 'Accum Neerslag', unit: 'mm', min: 0, max: 120, step: 20,
    ens: accumEns, ctrl: accumCtrl, oper: accumOper, mean: accumMean });
makeChart('pWind', { label: '10m wind', unit: 'm/s', min: 0, max: 20, step: 5,
    ens: windEns, ctrl: windCtrl, oper: windOper, mean: windMean, lines: windLines });
makeChart('pGust', { label: 'Windstoten', unit: 'm/s', min: 0, max: 35, step: 5,
    ens: gustEns, ctrl: gustCtrl, oper: gustOper, mean: gustMean, lines: gustLines, alarm: gustAlarm });
makeChart('pTemp', { label: 'T2m', unit: 'Celsius', min: 5, max: 30, step: 5,
    ens: tempEns, ctrl: tempCtrl, oper: tempOper, mean: tempMean, lines: tempLines });
makeChart('pCape', { label: 'Cape/Onweer', unit: 'kJ/kg', min: 0, max: 4, step: 1,
    ens: capeEns, ctrl: capeCtrl, oper: capeOper, mean: capeMean, lines: capeLines, lineColor: '#777', alarm: capeAlarm });
</script>
</body>
</html>
